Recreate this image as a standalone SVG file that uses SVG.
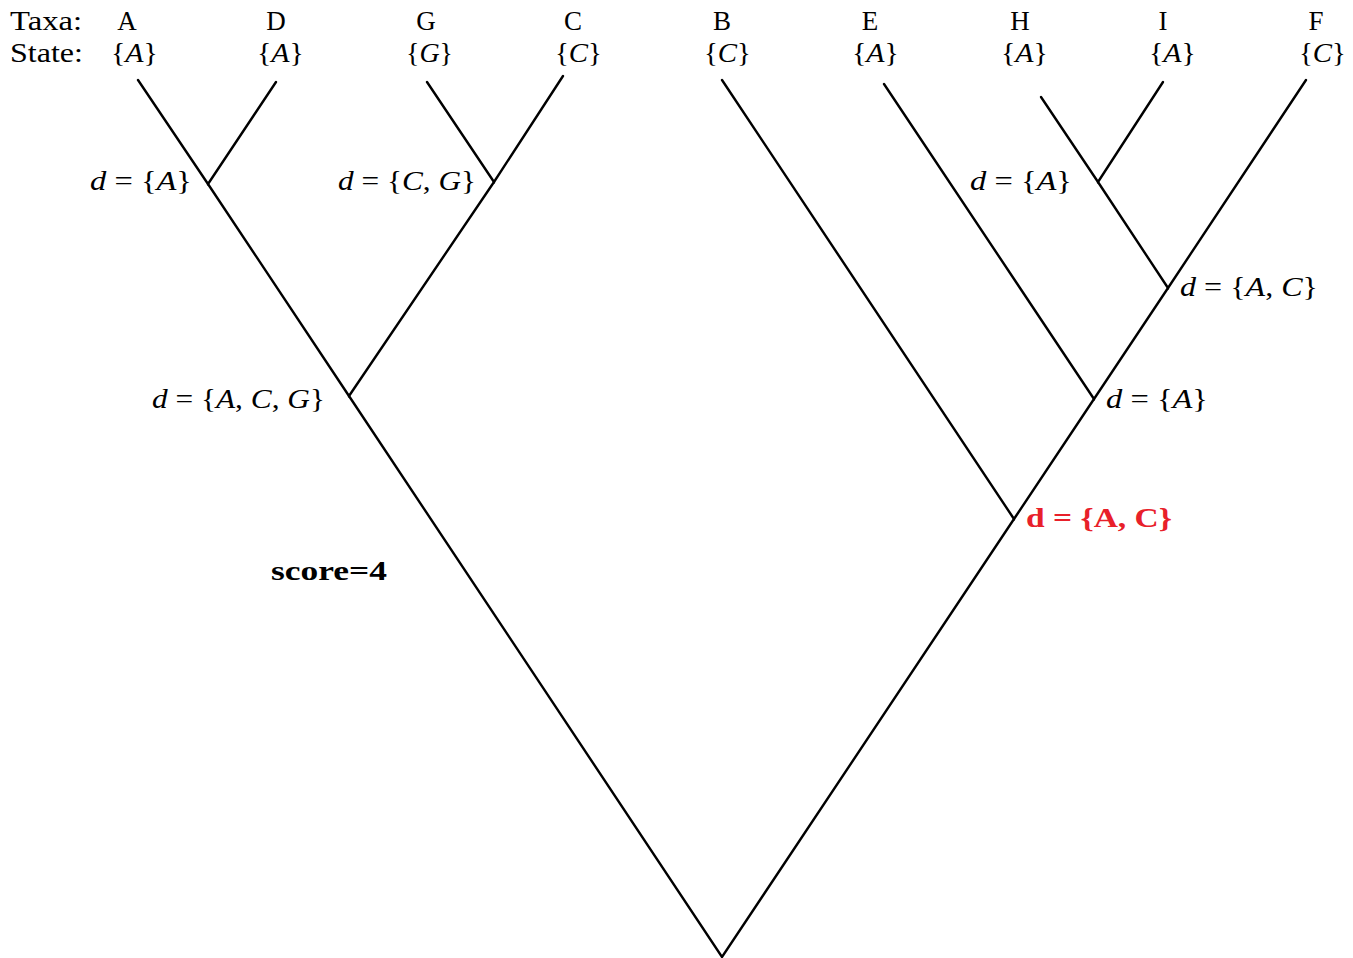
<svg xmlns="http://www.w3.org/2000/svg" width="1353" height="958" viewBox="0 0 1353 958">
<style>
.t{font-family:"Liberation Serif","DejaVu Serif",serif;font-size:27px;fill:#000}
.s{font-size:28px}
.m{font-style:italic}
.b{font-weight:bold}
.red{fill:#e8202a}
.e{stroke:#000;stroke-width:2.4;fill:none;stroke-linecap:round}
</style>
<rect width="1353" height="958" fill="#fff"/>
<g id="header">
<text class="t" x="10" y="30" textLength="72" lengthAdjust="spacingAndGlyphs">Taxa:</text>
<text class="t" x="10" y="62" textLength="73" lengthAdjust="spacingAndGlyphs">State:</text>
</g>
<g id="leaf-A"><text class="t" x="127" y="30" text-anchor="middle">A</text><text class="t s" x="111" y="62" textLength="47" lengthAdjust="spacingAndGlyphs">{<tspan class="m">A</tspan>}</text></g>
<g id="leaf-D"><text class="t" x="276" y="30" text-anchor="middle">D</text><text class="t s" x="257" y="62" textLength="47" lengthAdjust="spacingAndGlyphs">{<tspan class="m">A</tspan>}</text></g>
<g id="leaf-G"><text class="t" x="426" y="30" text-anchor="middle">G</text><text class="t s" x="406" y="62" textLength="47" lengthAdjust="spacingAndGlyphs">{<tspan class="m">G</tspan>}</text></g>
<g id="leaf-C"><text class="t" x="573" y="30" text-anchor="middle">C</text><text class="t s" x="555" y="62" textLength="47" lengthAdjust="spacingAndGlyphs">{<tspan class="m">C</tspan>}</text></g>
<g id="leaf-B"><text class="t" x="722" y="30" text-anchor="middle">B</text><text class="t s" x="704" y="62" textLength="47" lengthAdjust="spacingAndGlyphs">{<tspan class="m">C</tspan>}</text></g>
<g id="leaf-E"><text class="t" x="870" y="30" text-anchor="middle">E</text><text class="t s" x="852" y="62" textLength="47" lengthAdjust="spacingAndGlyphs">{<tspan class="m">A</tspan>}</text></g>
<g id="leaf-H"><text class="t" x="1020" y="30" text-anchor="middle">H</text><text class="t s" x="1001" y="62" textLength="47" lengthAdjust="spacingAndGlyphs">{<tspan class="m">A</tspan>}</text></g>
<g id="leaf-I"><text class="t" x="1163" y="30" text-anchor="middle">I</text><text class="t s" x="1149" y="62" textLength="47" lengthAdjust="spacingAndGlyphs">{<tspan class="m">A</tspan>}</text></g>
<g id="leaf-F"><text class="t" x="1316" y="30" text-anchor="middle">F</text><text class="t s" x="1299" y="62" textLength="47" lengthAdjust="spacingAndGlyphs">{<tspan class="m">C</tspan>}</text></g>
<g id="node-AD"><text class="t" x="90" y="190" textLength="102" lengthAdjust="spacingAndGlyphs"><tspan class="m">d</tspan> = {<tspan class="m">A</tspan>}</text></g>
<g id="node-GC"><text class="t" x="338" y="190" textLength="138" lengthAdjust="spacingAndGlyphs"><tspan class="m">d</tspan> = {<tspan class="m">C</tspan>, <tspan class="m">G</tspan>}</text></g>
<g id="node-ADGC"><text class="t" x="152" y="408" textLength="173" lengthAdjust="spacingAndGlyphs"><tspan class="m">d</tspan> = {<tspan class="m">A</tspan>, <tspan class="m">C</tspan>, <tspan class="m">G</tspan>}</text></g>
<g id="node-HI"><text class="t" x="970" y="190" textLength="102" lengthAdjust="spacingAndGlyphs"><tspan class="m">d</tspan> = {<tspan class="m">A</tspan>}</text></g>
<g id="node-HIF"><text class="t" x="1180" y="296" textLength="138" lengthAdjust="spacingAndGlyphs"><tspan class="m">d</tspan> = {<tspan class="m">A</tspan>, <tspan class="m">C</tspan>}</text></g>
<g id="node-EHIF"><text class="t" x="1106" y="408" textLength="102" lengthAdjust="spacingAndGlyphs"><tspan class="m">d</tspan> = {<tspan class="m">A</tspan>}</text></g>
<g id="node-BEHIF"><text class="t red b" x="1026" y="527" textLength="146" lengthAdjust="spacingAndGlyphs">d = {A, C}</text></g>
<g id="score"><text class="t b" x="271" y="580" textLength="116" lengthAdjust="spacingAndGlyphs">score=4</text></g>
<g id="edges" class="e">
<path d="M138,80 L208,184 L276,82"/>
<path d="M427,82 L494,182 L563,76"/>
<path d="M208,184 L349,396 L494,182"/>
<path d="M349,396 L722,957 L1014,519"/>
<path d="M722,80 L1014,519 L1094,399"/>
<path d="M884,84 L1094,399 L1168,288"/>
<path d="M1041,97 L1098,182 L1163,82"/>
<path d="M1098,182 L1168,288 L1306,80"/>
</g>
</svg>
